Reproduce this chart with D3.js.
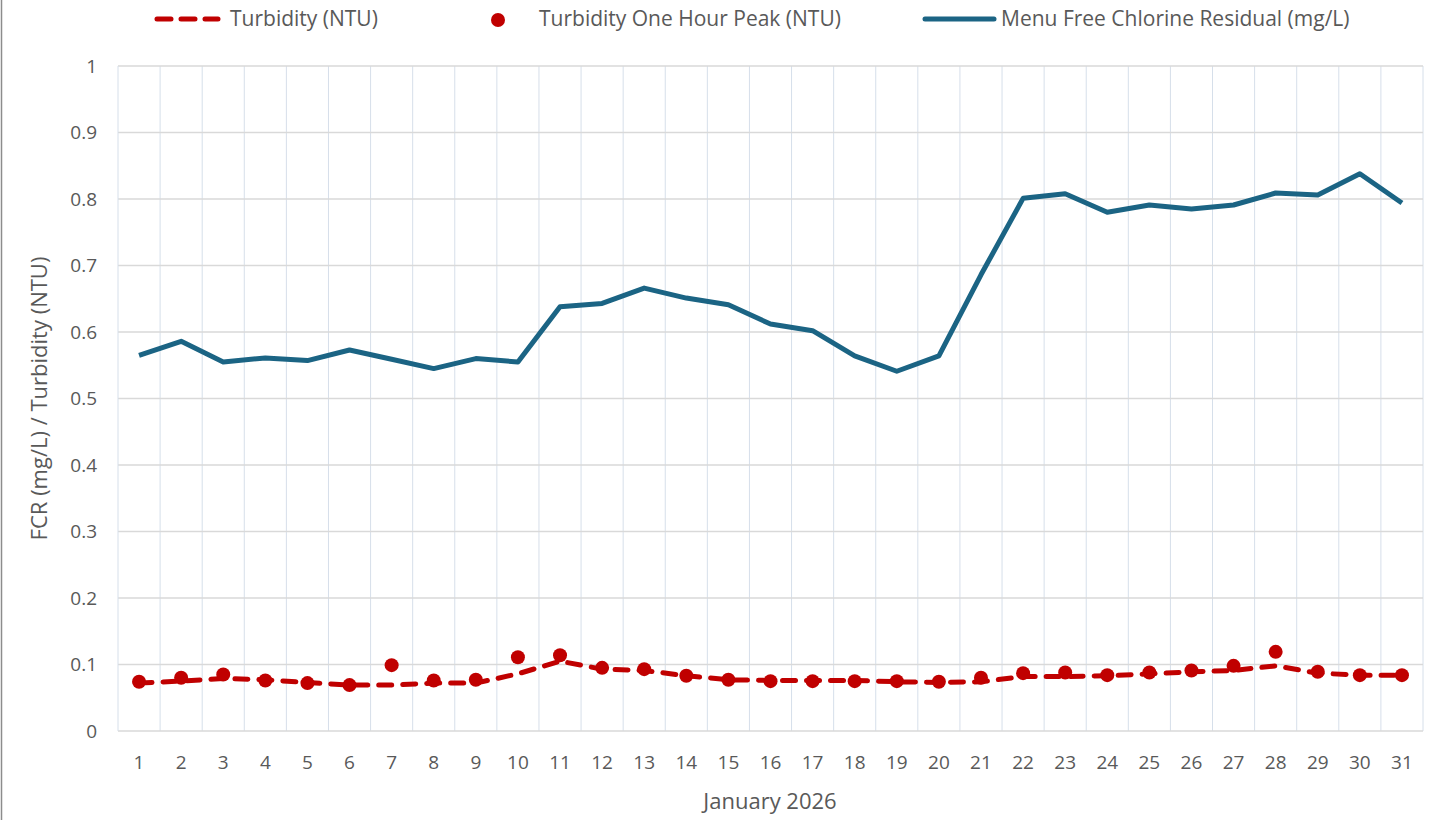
<!DOCTYPE html>
<html>
<head>
<meta charset="utf-8">
<script src="https://cdn.jsdelivr.net/npm/d3@7"></script>
<style>
  body { margin: 0; background: #fff; }
  text { font-family: "Open Sans", "Noto Sans", sans-serif; fill: #595959; }
</style>
</head>
<body>
<div id="chart"></div>
<script>
const days = d3.range(1, 32);
const fcr = [0.565, 0.586, 0.555, 0.561, 0.557, 0.573, 0.559, 0.545, 0.560, 0.555,
             0.638, 0.643, 0.666, 0.651, 0.641, 0.612, 0.602, 0.564, 0.541, 0.564,
             0.686, 0.801, 0.808, 0.780, 0.791, 0.785, 0.791, 0.809, 0.806, 0.838, 0.794];
const turbidity = [0.072, 0.075, 0.079, 0.077, 0.073, 0.069, 0.069, 0.072, 0.072, 0.086,
                   0.105, 0.093, 0.091, 0.083, 0.077, 0.076, 0.076, 0.076, 0.074, 0.073,
                   0.074, 0.082, 0.082, 0.083, 0.086, 0.089, 0.091, 0.098, 0.087, 0.084, 0.084];
const turbidityPeak = [0.074, 0.080, 0.085, 0.076, 0.072, 0.069, 0.099, 0.076, 0.077, 0.111,
                       0.114, 0.095, 0.093, 0.083, 0.077, 0.075, 0.075, 0.075, 0.075, 0.074,
                       0.080, 0.087, 0.088, 0.084, 0.088, 0.091, 0.098, 0.119, 0.089, 0.084, 0.084];
const yTicks = [0, 0.1, 0.2, 0.3, 0.4, 0.5, 0.6, 0.7, 0.8, 0.9, 1];

const width = 1435, height = 820;
const margin = {top: 66, right: 12, bottom: 89, left: 118};

const svg = d3.select('#chart').append('svg')
    .attr('width', width)
    .attr('height', height);

// chart border (only left edge visible in frame)
svg.append('line')
    .attr('x1', 1.5).attr('x2', 1.5)
    .attr('y1', 0).attr('y2', height)
    .attr('stroke', '#8c8c8c').attr('stroke-width', 1.5);

const x = d3.scaleBand()
    .domain(days)
    .range([margin.left, width - margin.right]);

const y = d3.scaleLinear()
    .domain([0, 1])
    .range([height - margin.bottom, margin.top]);

const cx = d => x(d) + x.bandwidth() / 2;

// vertical gridlines at category boundaries
svg.append('g')
    .selectAll('line')
    .data(days.slice(1).concat([32]))
    .join('line')
    .attr('x1', d => d === 32 ? width - margin.right : x(d))
    .attr('x2', d => d === 32 ? width - margin.right : x(d))
    .attr('y1', y(1))
    .attr('y2', y(0))
    .attr('stroke', '#d6dfea')
    .attr('stroke-width', 1);

// horizontal gridlines
svg.append('g')
    .selectAll('line')
    .data(yTicks)
    .join('line')
    .attr('x1', margin.left)
    .attr('x2', width - margin.right)
    .attr('y1', d => y(d))
    .attr('y2', d => y(d))
    .attr('stroke', '#d9d9d9')
    .attr('stroke-width', d => d === 0 ? 1.5 : 1.3);

svg.append('line')
    .attr('x1', margin.left).attr('x2', margin.left)
    .attr('y1', y(1)).attr('y2', y(0))
    .attr('stroke', '#d6dfea');

// y axis labels
svg.append('g')
    .selectAll('text')
    .data(yTicks)
    .join('text')
    .attr('x', 97)
    .attr('y', d => y(d))
    .attr('dy', '0.35em')
    .attr('text-anchor', 'end')
    .attr('font-size', 19)
    .text(d => d3.format('~g')(d));

// x axis labels
svg.append('g')
    .selectAll('text')
    .data(days)
    .join('text')
    .attr('x', d => cx(d))
    .attr('y', 769)
    .attr('text-anchor', 'middle')
    .attr('font-size', 19)
    .text(d => d);

svg.append('text')
    .attr('x', 770)
    .attr('y', 809)
    .attr('text-anchor', 'middle')
    .attr('font-size', 22)
    .text('January 2026');

svg.append('text')
    .attr('transform', `translate(47,${(y(0) + y(1)) / 2}) rotate(-90)`)
    .attr('text-anchor', 'middle')
    .attr('font-size', 22)
    .text('FCR (mg/L) / Turbidity (NTU)');

// series
const line = d3.line().x((d, i) => cx(days[i])).y(d => y(d));

svg.append('path')
    .datum(turbidity)
    .attr('d', line)
    .attr('fill', 'none')
    .attr('stroke', '#c00000')
    .attr('stroke-width', 5)
    .attr('stroke-linecap', 'round')
    .attr('stroke-dasharray', '13 11');

svg.append('g')
    .selectAll('circle')
    .data(turbidityPeak)
    .join('circle')
    .attr('cx', (d, i) => cx(days[i]))
    .attr('cy', d => y(d))
    .attr('r', 7)
    .attr('fill', '#c00000');

svg.append('path')
    .datum(fcr)
    .attr('d', line)
    .attr('fill', 'none')
    .attr('stroke', '#1b6484')
    .attr('stroke-width', 5)
    .attr('stroke-linejoin', 'round');

// legend
const leg = svg.append('g');
leg.append('line')
    .attr('x1', 157).attr('x2', 218).attr('y1', 19).attr('y2', 19)
    .attr('stroke', '#c00000').attr('stroke-width', 5)
    .attr('stroke-linecap', 'round').attr('stroke-dasharray', '14 10');
leg.append('text').attr('x', 230).attr('y', 19).attr('dy', '0.35em')
    .attr('font-size', 21).text('Turbidity (NTU)');

leg.append('circle').attr('cx', 498).attr('cy', 20).attr('r', 7).attr('fill', '#c00000');
leg.append('text').attr('x', 539).attr('y', 19).attr('dy', '0.35em')
    .attr('font-size', 21).text('Turbidity One Hour Peak (NTU)');

leg.append('line')
    .attr('x1', 925).attr('x2', 994).attr('y1', 19).attr('y2', 19)
    .attr('stroke', '#1b6484').attr('stroke-width', 5).attr('stroke-linecap', 'round');
leg.append('text').attr('x', 1001).attr('y', 19).attr('dy', '0.35em')
    .attr('font-size', 21).text('Menu Free Chlorine Residual (mg/L)');
</script>
</body>
</html>
